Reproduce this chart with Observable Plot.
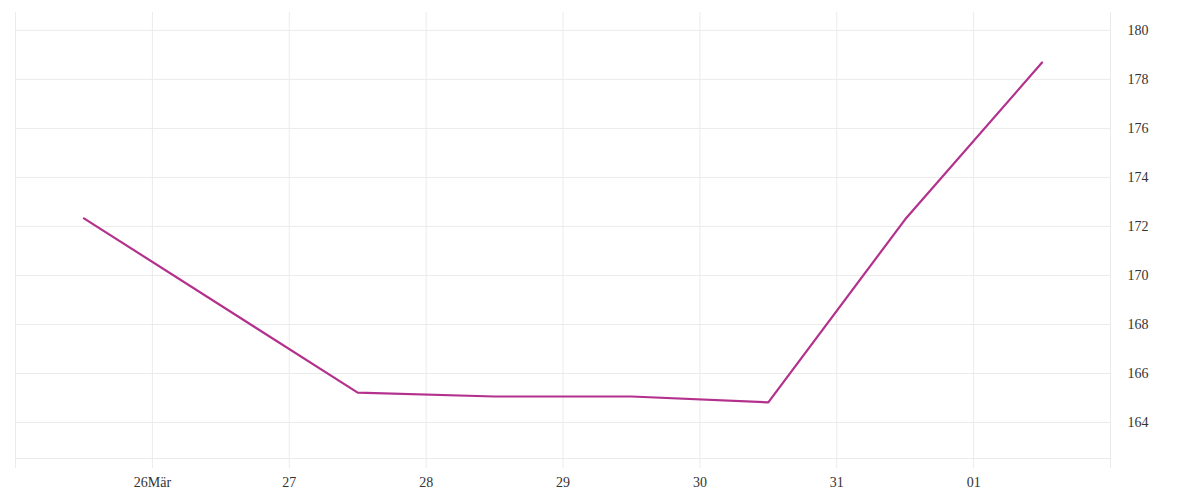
<!DOCTYPE html>
<html>
<head>
<meta charset="utf-8">
<script src="https://cdn.jsdelivr.net/npm/d3@7"></script>
<script src="https://cdn.jsdelivr.net/npm/@observablehq/plot@0.6"></script>
<style>
  html, body { margin: 0; padding: 0; background: #fff; }
  #chart svg { display: block; }
</style>
</head>
<body>
<div id="chart"></div>
<script>
// Data
const dates = ["2024-03-25T12:00Z", "2024-03-27T12:00Z", "2024-03-28T12:00Z", "2024-03-29T12:00Z", "2024-03-30T12:00Z", "2024-03-31T12:00Z", "2024-04-01T12:00Z"];
const values = [172.33, 165.22, 165.06, 165.06, 164.82, 172.29, 178.69];

// Axis ticks
const xTickDates = ["2024-03-25", "2024-03-26", "2024-03-27", "2024-03-28", "2024-03-29", "2024-03-30", "2024-03-31", "2024-04-01", "2024-04-02"];
const xTickLabels = ["", "26Mär", "27", "28", "29", "30", "31", "01", ""];
const yTicks = [164, 166, 168, 170, 172, 174, 176, 178, 180];
const yDomain = [162.53, 180.73];

const data = dates.map((d, i) => ({date: new Date(d), value: values[i]}));
const tickDates = xTickDates.map(d => new Date(d + "T00:00Z"));
const labelMap = new Map(tickDates.map((d, i) => [+d, xTickLabels[i]]));

const gridColor = "#ebebeb";
const chart = Plot.plot({
  width: 1200,
  height: 500,
  marginTop: 12,
  marginBottom: 42,
  marginLeft: 15,
  marginRight: 90,
  style: {fontFamily: "'Liberation Serif', serif", fontSize: "14px", color: "#333", background: "#fff"},
  x: {type: "utc", domain: [tickDates[0], tickDates[tickDates.length - 1]]},
  y: {domain: yDomain},
  marks: [
    Plot.gridY(yTicks, {stroke: gridColor, strokeOpacity: 1, strokeWidth: 1}),
    Plot.gridX(tickDates, {stroke: gridColor, strokeOpacity: 1, strokeWidth: 1}),
    Plot.ruleY([yDomain[0]], {stroke: gridColor, strokeWidth: 1}),
    Plot.axisX(tickDates, {
      anchor: "bottom",
      tickSize: 10,
      tickPadding: 9,
      stroke: gridColor,
      fill: "#333",
      tickFormat: d => labelMap.get(+d),
      label: null
    }),
    Plot.axisY(yTicks, {
      anchor: "right",
      tickSize: 0,
      tickPadding: 17,
      fill: "#333",
      tickFormat: d => String(d),
      label: null
    }),
    Plot.line(data, {x: "date", y: "value", stroke: "#b3318d", strokeWidth: 2.2, curve: "linear"})
  ]
});
document.getElementById("chart").appendChild(chart);
</script>
</body>
</html>
